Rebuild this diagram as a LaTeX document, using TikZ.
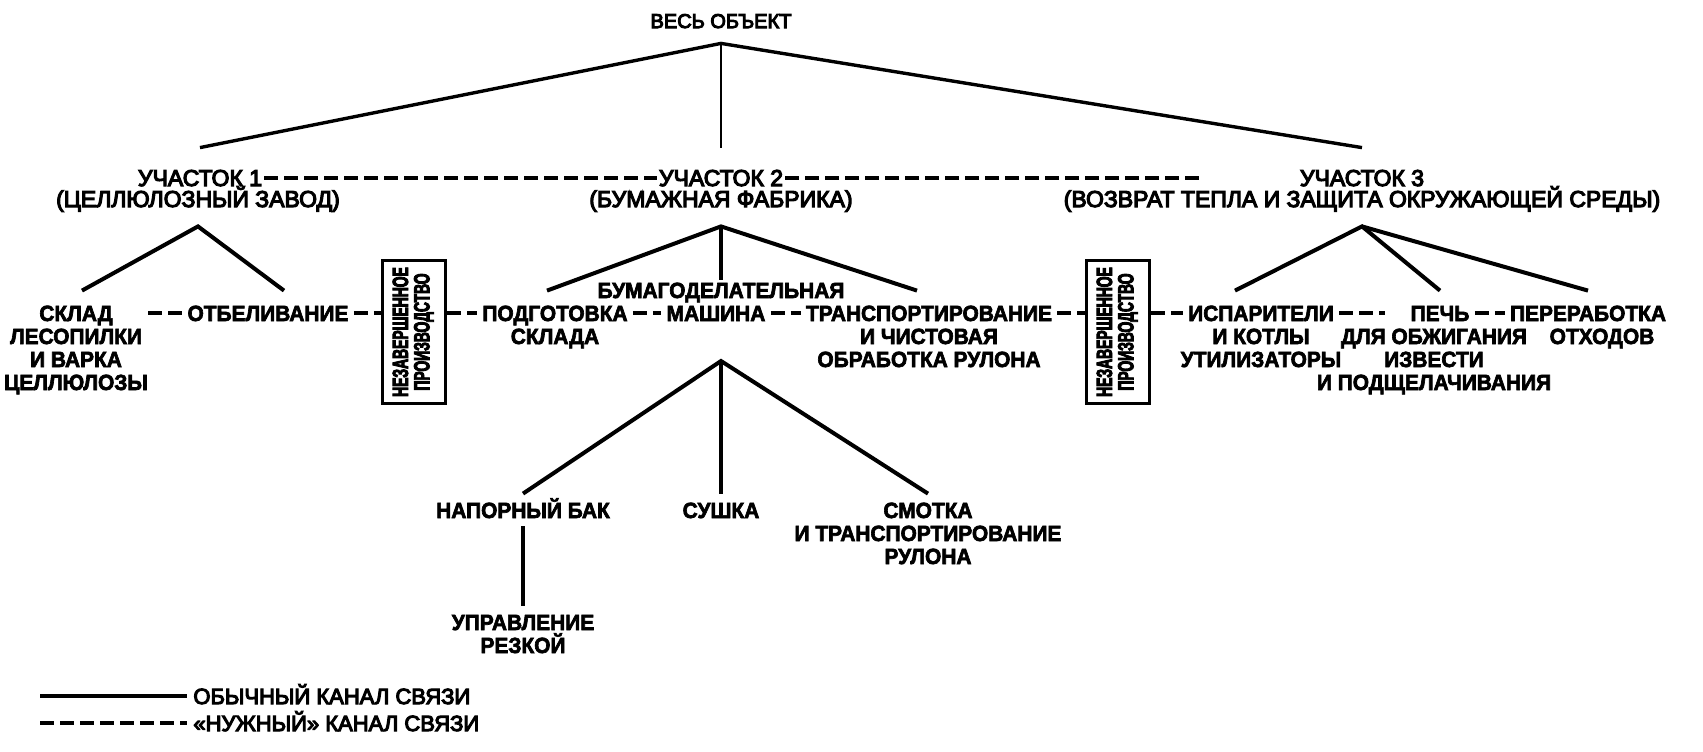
\documentclass[tikz,border=0pt]{standalone}
\usepackage{fontspec}
\setmainfont{Liberation Sans}[BoldFeatures={FakeStretch=0.95, FakeBold=3}]
\newfontfamily\mediumfont{Liberation Sans}[FakeBold=5]
\newfontfamily\narrowfont{Liberation Sans}[FakeStretch=0.63, FakeBold=4]
\usepackage{tikz}
\usetikzlibrary{positioning}

\newcommand{\partfont}{\mediumfont\fontsize{11.5}{11.5}\selectfont}
\newcommand{\unitfont}{\bfseries\fontsize{11}{11.5}\selectfont}
\newcommand{\wipfont}{\narrowfont\bfseries\fontsize{11}{10}\selectfont}
\newcommand{\textlines}[1]{\begin{tabular}[t]{@{}c@{}}#1\end{tabular}}

\tikzset{
    link/.style={line width=2pt},
    toplink/.style={line width=1.7pt},
    need/.style={line width=2pt, dash pattern=on 7pt off 3pt},
    part/.style={font=\partfont, anchor=base, text height=8pt, text depth=0pt,
        inner xsep=1pt, inner ysep=11pt},
    partsub/.style={part, inner ysep=9.5pt},
    unit/.style={font=\unitfont, anchor=base, text height=8pt, text depth=0pt,
        inner xsep=2.5pt, inner ysep=7pt},
    subunit/.style={unit, inner ysep=4pt},
    more/.style={font=\unitfont, anchor=base, inner sep=0pt},
    wip/.style={draw, line width=1.8pt, minimum width=31.5pt, minimum height=71.5pt,
        inner sep=0pt, font=\wipfont},
}

\begin{document}
\begin{tikzpicture}[x=0.5pt, y=-0.5pt]
    \useasboundingbox (0,0) rectangle (1703,751);

    % object and sites
    \node[part, font=\mediumfont\fontsize{10}{10}\selectfont, inner ysep=7.5pt] (obj) at (721,28) {ВЕСЬ ОБЪЕКТ};
    \node[part] (site1) at (200,186) {УЧАСТОК 1};
    \node[partsub] (site1sub) at (198,207) {(ЦЕЛЛЮЛОЗНЫЙ ЗАВОД)};
    \node[part] (site2) at (721,186) {УЧАСТОК 2};
    \node[partsub] (site2sub) at (721,207) {(БУМАЖНАЯ ФАБРИКА)};
    \node[part] (site3) at (1362,186) {УЧАСТОК 3};
    \node[partsub] (site3sub) at (1362,207) {(ВОЗВРАТ ТЕПЛА И ЗАЩИТА ОКРУЖАЮЩЕЙ СРЕДЫ)};
    \coordinate (site2end) at (1203,178);

    \draw[toplink] (site1.north) -- (obj.south) -- (site3.north);
    \draw[line width=1.2pt] (obj.south) -- (site2.north);
    \draw[need] (site1.east) -- (site2.west);
    \draw[need] (site2.east) -- (site2end);

    % units of the sites
    \node[unit] (sklad) at (76,321) {СКЛАД};
    \node[below=11.5pt of sklad.base, more] (sklad2) {\textlines{ЛЕСОПИЛКИ\\И ВАРКА\\ЦЕЛЛЮЛОЗЫ}};
    \node[unit] (otbel) at (268,321) {ОТБЕЛИВАНИЕ};
    \node[wip] (wip1) at (414,332) {\rotatebox{90}{\textlines{НЕЗАВЕРШЕННОЕ\\ПРОИЗВОДСТВО}}};
    \node[unit] (podg) at (555,321) {ПОДГОТОВКА};
    \node[below=11.5pt of podg.base, more] (podg2) {СКЛАДА};
    \node[unit, inner ysep=1pt] (bum) at (721,298) {БУМАГОДЕЛАТЕЛЬНАЯ};
    \node[unit] (mash) at (716,321) {МАШИНА};
    \node[unit] (transp) at (929,321) {ТРАНСПОРТИРОВАНИЕ};
    \node[below=11.5pt of transp.base, more] (transp2) {\textlines{И ЧИСТОВАЯ\\ОБРАБОТКА РУЛОНА}};
    \node[wip] (wip2) at (1118,332) {\rotatebox{90}{\textlines{НЕЗАВЕРШЕННОЕ\\ПРОИЗВОДСТВО}}};
    \node[unit] (isp) at (1261,321) {ИСПАРИТЕЛИ};
    \node[below=11.5pt of isp.base, more] (isp2) {\textlines{И КОТЛЫ\\УТИЛИЗАТОРЫ}};
    \node[unit] (pech) at (1440,321) {ПЕЧЬ};
    \node[below=11.5pt of pech.base, xshift=-3pt, more] (pech2) {\textlines{ДЛЯ ОБЖИГАНИЯ\\ИЗВЕСТИ\\И ПОДЩЕЛАЧИВАНИЯ}};
    \node[unit] (pererab) at (1588,321) {ПЕРЕРАБОТКА};
    \node[below=11.5pt of pererab.base, xshift=7pt, more] (pererab2) {ОТХОДОВ};

    \draw[link] ([xshift=3pt]sklad.north) -- (site1sub.south) -- ([xshift=8pt]otbel.north);
    \draw[link] ([xshift=-4pt]podg.north) -- (site2sub.south) -- ([xshift=-6pt]transp.north);
    \draw[link] (site2sub.south) -- (bum.north);
    \draw[link] ([xshift=-13pt]isp.north) -- (site3sub.south) -- (pech.north);
    \draw[link] (site3sub.south) -- (pererab.north);

    \draw[need] (sklad2.east |- sklad.east) -- (otbel.west);
    \draw[need] (otbel.east) -- (otbel.east -| wip1.west);
    \draw[need] (podg.west -| wip1.east) -- (podg.west);
    \draw[need] (podg.east) -- (mash.west);
    \draw[need] (mash.east) -- (transp.west);
    \draw[need] (transp.east) -- (transp.east -| wip2.west);
    \draw[need] (isp.west -| wip2.east) -- (isp.west);
    \draw[need, shorten >=10pt] (isp.east) -- (pech.west);
    \draw[need] (pech.east) -- (pererab.west);

    % paper machine
    \coordinate (mapex) at (721,361);
    \node[subunit] (napor) at (523,518) {НАПОРНЫЙ БАК};
    \node[subunit] (sushka) at (721,518) {СУШКА};
    \node[subunit] (smotka) at (928,518) {СМОТКА};
    \node[below=11.5pt of smotka.base, more] (smotka2) {\textlines{И ТРАНСПОРТИРОВАНИЕ\\РУЛОНА}};
    \node[subunit] (upr) at (523,630) {УПРАВЛЕНИЕ};
    \node[below=11.5pt of upr.base, more] (upr2) {РЕЗКОЙ};

    \draw[link] (napor.north) -- (mapex) -- (smotka.north);
    \draw[link] (mapex) -- (sushka.north);
    \draw[link] (napor.south) -- (upr.north);

    % legend
    \coordinate (key1) at (40,696);
    \coordinate (key2) at (40,723);
    \node[part, font=\mediumfont\fontsize{11}{11}\selectfont, anchor=west, inner xsep=3pt, inner ysep=0pt] (keysolid) at (187,696) {ОБЫЧНЫЙ КАНАЛ СВЯЗИ};
    \node[part, font=\mediumfont\fontsize{11}{11}\selectfont, anchor=west, inner xsep=3pt, inner ysep=0pt] (keyneed) at (187,723) {«НУЖНЫЙ» КАНАЛ СВЯЗИ};
    \draw[link] (key1) -- (keysolid.west);
    \draw[need] (key2) -- (keyneed.west);
\end{tikzpicture}
\end{document}
